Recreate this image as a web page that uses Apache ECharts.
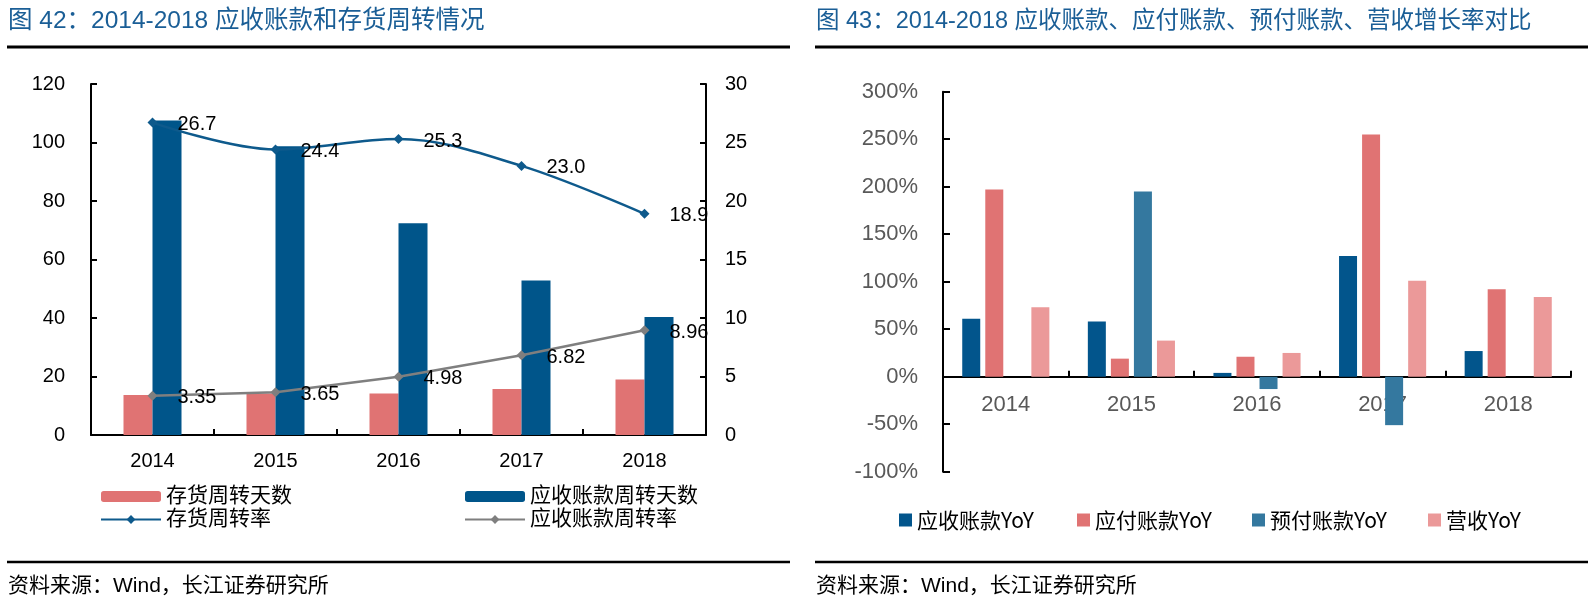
<!DOCTYPE html>
<html><head><meta charset="utf-8">
<script src="https://cdn.jsdelivr.net/npm/echarts@6/dist/echarts.min.js"></script>
<style>html,body{margin:0;padding:0;background:#fff}#c{width:1595px;height:602px}</style>
</head><body><div id="c"></div>
<script>
// ---- Data: Figure 42 ----
const years = ['2014', '2015', '2016', '2017', '2018'];
const invDays = [13.7, 14.2, 14.2, 15.7, 19.0];        // 存货周转天数
const arDays = [107.5, 98.7, 72.4, 52.8, 40.3];        // 应收账款周转天数
const invTurn = [26.7, 24.4, 25.3, 23.0, 18.9];        // 存货周转率
const arTurn = [3.35, 3.65, 4.98, 6.82, 8.96];         // 应收账款周转率
// ---- Data: Figure 43 (percent) ----
const arYoY = [61, 58, 4, 127, 27];                    // 应收账款YoY
const apYoY = [197, 19, 21, 255, 92];                  // 应付账款YoY
const prepayYoY = [null, 195, -13, -51, null];         // 预付账款YoY
const revYoY = [73, 38, 25, 101, 84];                  // 营收YoY
const pctMin = -100, pctMax = 300, pctStep = 50;

const title1 = '图 42：2014-2018 应收账款和存货周转情况';
const title2 = '图 43：2014-2018 应收账款、应付账款、预付账款、营收增长率对比';
const source = '资料来源：Wind，长江证券研究所';

const LAT = '"Liberation Sans", Arial, "Noto Sans CJK SC", sans-serif';
const CJK = '"Liberation Sans", "Noto Sans CJK SC", sans-serif';
const TITLE_COLOR = '#1A5E96';

const chart = echarts.init(document.getElementById('c'), null, {renderer: 'canvas'});

const commonAxisLine = {show: true, lineStyle: {color: '#000', width: 2}};
const grid2Height = 380;
// distance from grid bottom to the zero line, derived from the axis range
const zeroOffset = grid2Height * (0 - pctMin) / (pctMax - pctMin);

const legTxt = {fontFamily: '"Noto Sans CJK SC", sans-serif', fontSize: 21, lineHeight: 24, color: '#000'};

const option = {
  animation: false,
  backgroundColor: '#fff',
  title: [
    {text: title1, left: 8, top: 9, padding: 0, textStyle: {fontFamily: CJK, fontSize: 24.5, fontWeight: 'normal', color: TITLE_COLOR}},
    {text: title2, left: 816, top: 10, padding: 0, textStyle: {fontFamily: CJK, fontSize: 23.5, fontWeight: 'normal', color: TITLE_COLOR}},
    {text: source, left: 8, top: 576, padding: 0, textStyle: {fontFamily: CJK, fontSize: 21, fontWeight: 'normal', color: '#000'}},
    {text: source, left: 816, top: 576, padding: 0, textStyle: {fontFamily: CJK, fontSize: 21, fontWeight: 'normal', color: '#000'}}
  ],
  graphic: [
    {type: 'line', shape: {x1: 7, y1: 47, x2: 790, y2: 47}, style: {stroke: '#000', lineWidth: 3}},
    {type: 'line', shape: {x1: 815, y1: 47, x2: 1588, y2: 47}, style: {stroke: '#000', lineWidth: 3}},
    {type: 'line', shape: {x1: 7, y1: 562, x2: 790, y2: 562}, style: {stroke: '#000', lineWidth: 2.5}},
    {type: 'line', shape: {x1: 815, y1: 562, x2: 1588, y2: 562}, style: {stroke: '#000', lineWidth: 2.5}}
  ],
  legend: [
    {left: 100, top: 485, orient: 'vertical', padding: 0, itemGap: 0, itemWidth: 60, itemHeight: 11,
     data: ['存货周转天数', '存货周转率'],
     textStyle: {fontFamily: CJK, fontSize: 21, lineHeight: 23, color: '#000'}},
    {left: 464, top: 485, orient: 'vertical', padding: 0, itemGap: 0, itemWidth: 60, itemHeight: 11,
     data: ['应收账款周转天数', '应收账款周转率'],
     textStyle: {fontFamily: CJK, fontSize: 21, lineHeight: 23, color: '#000'}},
    {left: 899, top: 508, padding: 0, itemWidth: 13, itemHeight: 13, icon: 'rect', data: ['应收账款YoY'], textStyle: legTxt},
    {left: 1077, top: 508, padding: 0, itemWidth: 13, itemHeight: 13, icon: 'rect', data: ['应付账款YoY'], textStyle: legTxt},
    {left: 1252, top: 508, padding: 0, itemWidth: 13, itemHeight: 13, icon: 'rect', data: ['预付账款YoY'], textStyle: legTxt},
    {left: 1428, top: 508, padding: 0, itemWidth: 13, itemHeight: 13, icon: 'rect', data: ['营收YoY'], textStyle: legTxt}
  ],
  grid: [
    {left: 91, top: 84, width: 615, height: 351, containLabel: false},
    {left: 943, top: 91.7, width: 628, height: grid2Height, containLabel: false}
  ],
  xAxis: [
    {type: 'category', gridIndex: 0, data: years, boundaryGap: true,
     axisLine: commonAxisLine,
     axisTick: {show: true, inside: true, length: 6, lineStyle: {color: '#000', width: 2}},
     axisLabel: {fontFamily: LAT, fontSize: 20, color: '#000', margin: 16}},
    {type: 'category', gridIndex: 1, data: years, boundaryGap: true,
     axisLine: {show: true, onZero: true, lineStyle: {color: '#000', width: 2}},
     axisTick: {show: true, inside: true, length: 6, lineStyle: {color: '#000', width: 2}},
     axisLabel: {show: false}},
    {type: 'category', gridIndex: 1, data: years, boundaryGap: true, position: 'bottom',
     offset: -zeroOffset,
     axisLine: {show: false, onZero: false}, axisTick: {show: false},
     axisLabel: {fontFamily: LAT, fontSize: 22, color: '#595959', margin: 17}}
  ],
  yAxis: [
    {type: 'value', gridIndex: 0, min: 0, max: 120, interval: 20, position: 'left',
     axisLine: commonAxisLine, splitLine: {show: false},
     axisTick: {show: true, inside: true, length: 6, lineStyle: {color: '#000', width: 2}},
     axisLabel: {fontFamily: LAT, fontSize: 20, color: '#000', margin: 26}},
    {type: 'value', gridIndex: 0, min: 0, max: 30, interval: 5, position: 'right',
     axisLine: commonAxisLine, splitLine: {show: false},
     axisTick: {show: true, inside: true, length: 6, lineStyle: {color: '#000', width: 2}},
     axisLabel: {fontFamily: LAT, fontSize: 20, color: '#000', margin: 19}},
    {type: 'value', gridIndex: 1, min: pctMin, max: pctMax, interval: pctStep,
     axisLine: commonAxisLine, splitLine: {show: false},
     axisTick: {show: true, inside: true, length: 7, lineStyle: {color: '#000', width: 2}},
     axisLabel: {fontFamily: LAT, fontSize: 22, color: '#595959', margin: 25, formatter: '{value}%'}}
  ],
  series: [
    {name: '存货周转天数', type: 'bar', xAxisIndex: 0, yAxisIndex: 0, data: invDays,
     barWidth: 29, barGap: '0%', itemStyle: {color: '#E07373'}},
    {name: '应收账款周转天数', type: 'bar', xAxisIndex: 0, yAxisIndex: 0, data: arDays,
     barWidth: 29, barGap: '0%', itemStyle: {color: '#00558A'}},
    {name: '存货周转率', type: 'line', xAxisIndex: 0, yAxisIndex: 1, data: invTurn, smooth: 0.35, clip: false, z: 5,
     symbol: 'diamond', symbolSize: 10, itemStyle: {color: '#0E5A8C'}, lineStyle: {color: '#0E5A8C', width: 2.5},
     label: {show: true, position: 'right', distance: 20, offset: [0, 2], fontFamily: LAT, fontSize: 20, color: '#000',
             formatter: p => p.value.toFixed(1)}},
    {name: '应收账款周转率', type: 'line', xAxisIndex: 0, yAxisIndex: 1, data: arTurn, clip: false, z: 5,
     symbol: 'diamond', symbolSize: 10, itemStyle: {color: '#7F7F7F'}, lineStyle: {color: '#7F7F7F', width: 2.5},
     label: {show: true, position: 'right', distance: 20, offset: [0, 2], fontFamily: LAT, fontSize: 20, color: '#000',
             formatter: p => p.value.toFixed(2)}},
    {name: '应收账款YoY', type: 'bar', xAxisIndex: 1, yAxisIndex: 2, data: arYoY, barWidth: 18, barGap: '28%',
     itemStyle: {color: '#02558C'}},
    {name: '应付账款YoY', type: 'bar', xAxisIndex: 1, yAxisIndex: 2, data: apYoY, barWidth: 18, barGap: '28%',
     itemStyle: {color: '#E07373'}},
    {name: '预付账款YoY', type: 'bar', xAxisIndex: 1, yAxisIndex: 2, data: prepayYoY, barWidth: 18, barGap: '28%',
     itemStyle: {color: '#34789F'}},
    {name: '营收YoY', type: 'bar', xAxisIndex: 1, yAxisIndex: 2, data: revYoY, barWidth: 18, barGap: '28%',
     itemStyle: {color: '#EB9999'}}
  ]
};
chart.setOption(option);
</script></body></html>
